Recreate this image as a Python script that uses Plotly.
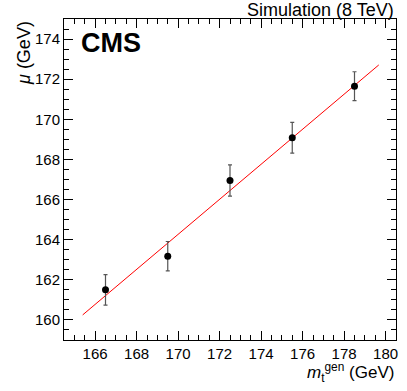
import plotly.graph_objects as go

# generated top mass points and extracted mu
mt_gen = [166.5, 169.5, 172.5, 175.5, 178.5]
mu = [161.5, 163.18, 166.95, 169.08, 171.65]
mu_err = [0.76, 0.73, 0.78, 0.77, 0.72]

# linear fit line
fit_x = [165.4, 179.67]
fit_y = [160.25, 172.71]

x_ticks = [166, 168, 170, 172, 174, 176, 178, 180]
y_ticks = [160, 162, 164, 166, 168, 170, 172, 174]

font = "Liberation Sans, Arial, sans-serif"
x_range = [164.5, 180.5]
y_range = [159, 175]

fig = go.Figure()
fig.add_trace(go.Scatter(
    x=fit_x, y=fit_y, mode="lines",
    line=dict(color="#ff0000", width=1),
    showlegend=False, hoverinfo="skip",
))
fig.add_trace(go.Scatter(
    x=mt_gen, y=mu, mode="markers",
    marker=dict(color="black", size=7),
    error_y=dict(type="data", array=mu_err, color="#555555", thickness=1.2, width=2),
    showlegend=False,
))
# invisible copy on the mirrored top/right axes so they get drawn
fig.add_trace(go.Scatter(x=mt_gen, y=mu, xaxis="x2", yaxis="y2", mode="markers",
                         marker=dict(opacity=0), showlegend=False, hoverinfo="skip"))

axis_common = dict(
    showgrid=False, zeroline=False,
    showline=True, linecolor="black", linewidth=1,
    ticks="inside", ticklen=9, tickwidth=1, tickcolor="black",
    tickfont=dict(family=font, size=15, color="black"),
    minor=dict(ticks="inside", ticklen=5, tickwidth=1, tickcolor="black", dtick=0.5),
)

fig.update_layout(
    xaxis=dict(range=x_range, tickvals=x_ticks, **axis_common),
    yaxis=dict(range=y_range, tickvals=y_ticks, **axis_common),
    xaxis2=dict(range=x_range, tickvals=x_ticks, overlaying="x", side="top",
                showticklabels=False, **axis_common),
    yaxis2=dict(range=y_range, tickvals=y_ticks, overlaying="y", side="right",
                showticklabels=False, **axis_common),
)

fig.update_layout(
    width=407, height=391,
    margin=dict(l=64, r=9, t=19, b=51),
    plot_bgcolor="white", paper_bgcolor="white",
    font=dict(family=font, color="black"),
    annotations=[
        dict(text="Simulation (8 TeV)", xref="paper", yref="paper", x=1.0, y=1.0,
             xanchor="right", yanchor="bottom", yshift=-3, showarrow=False,
             font=dict(family=font, size=18)),
        dict(text="<b>CMS</b>", xref="paper", yref="paper", x=0.045, y=0.977,
             xanchor="left", yanchor="top", showarrow=False,
             font=dict(family=font, size=27)),
        dict(text="<i>m</i><sub>t</sub><sup>gen</sup> (GeV)", xref="paper", yref="paper",
             x=1.0, y=0, xanchor="right", yanchor="top", yshift=-18, showarrow=False,
             font=dict(family=font, size=17)),
        dict(text="<i>μ</i> (GeV)", xref="paper", yref="paper", x=0, y=1.0,
             xanchor="right", yanchor="top", xshift=-28, textangle=-90, showarrow=False,
             font=dict(family=font, size=18)),
    ],
)

fig.write_html("out.html", config={"displayModeBar": False},
               post_script="document.body.style.margin='0';")
